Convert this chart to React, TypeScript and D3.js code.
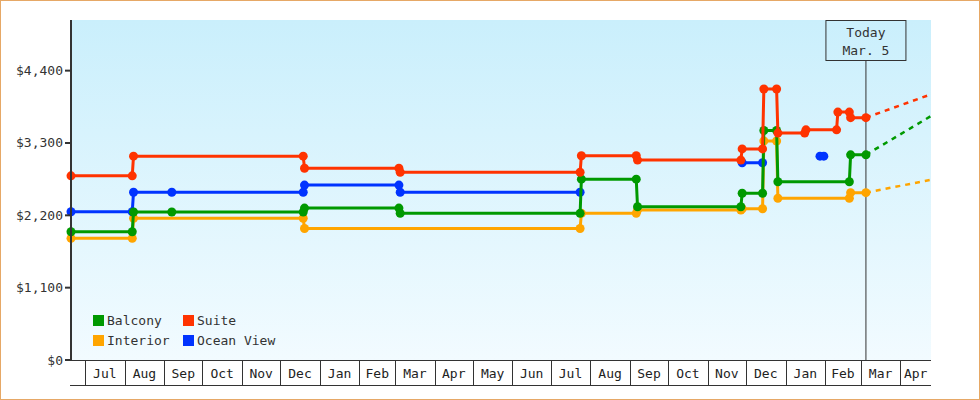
import React, { useEffect } from "react";
import * as d3 from "d3";

// ---------- data ----------
const startDate = "2012-06-20";
const endDate = "2014-04-25";
const todayDate = "2014-03-05";
const todayLabel = ["Today", "Mar. 5"];

const yTicks = [0, 1100, 2200, 3300, 4400];
const yMax = 5170;

type Pt = [string, number | null];

const balcony: Pt[] = [
  ["2012-06-20", 1950], ["2012-08-07", 1950], ["2012-08-08", 2250], ["2012-09-07", 2250],
  ["2012-12-19", 2250], ["2012-12-20", 2310], ["2013-03-04", 2310], ["2013-03-05", 2230],
  ["2013-07-24", 2230], ["2013-07-25", 2750], ["2013-09-06", 2750], ["2013-09-07", 2330],
  ["2013-11-27", 2330], ["2013-11-28", 2535], ["2013-12-14", 2535], ["2013-12-15", 3490],
  ["2013-12-25", 3490], ["2013-12-26", 2710], ["2014-02-20", 2710], ["2014-02-21", 3120],
  ["2014-03-05", 3120],
];

const suite: Pt[] = [
  ["2012-06-20", 2800], ["2012-08-07", 2800], ["2012-08-08", 3100], ["2012-12-19", 3100],
  ["2012-12-20", 2915], ["2013-03-04", 2915], ["2013-03-05", 2855], ["2013-07-24", 2855],
  ["2013-07-25", 3105], ["2013-09-06", 3105], ["2013-09-07", 3040], ["2013-11-27", 3040],
  ["2013-11-28", 3210], ["2013-12-14", 3210], ["2013-12-15", 4120], ["2013-12-25", 4120],
  ["2013-12-26", 3450], ["2014-01-16", 3450], ["2014-01-17", 3500], ["2014-02-10", 3500],
  ["2014-02-11", 3770], ["2014-02-20", 3770], ["2014-02-21", 3685], ["2014-03-05", 3685],
];

const interior: Pt[] = [
  ["2012-06-20", 1850], ["2012-08-07", 1850], ["2012-08-08", 2155], ["2012-12-19", 2155],
  ["2012-12-20", 2000], ["2013-07-24", 2000], ["2013-07-25", 2230], ["2013-09-06", 2230],
  ["2013-09-07", 2280], ["2013-11-27", 2280], ["2013-11-28", 2300], ["2013-12-14", 2300],
  ["2013-12-15", 3330], ["2013-12-25", 3330], ["2013-12-26", 2460], ["2014-02-20", 2460],
  ["2014-02-21", 2545], ["2014-03-05", 2545],
];

const oceanView: Pt[] = [
  ["2012-06-20", 2255], ["2012-08-07", 2255], ["2012-08-08", 2550], ["2012-09-07", 2550],
  ["2012-12-19", 2550], ["2012-12-20", 2660], ["2013-03-04", 2660], ["2013-03-05", 2550],
  ["2013-07-24", 2550], ["2013-07-25", null], ["2013-11-28", 3000], ["2013-12-14", 3000],
  ["2013-12-15", null], ["2014-01-28", 3100], ["2014-01-31", 3100],
];

// projected prices at the end of the axis (dashed)
const projBalcony = 3710;
const projSuite = 4040;
const projInterior = 2740;

const legendNames = ["Balcony", "Suite", "Interior", "Ocean View"];
const colors: Record<string, string> = {
  Balcony: "#009900",
  Suite: "#ff3300",
  Interior: "#ffa500",
  "Ocean View": "#0033ff",
};

// ---------- layout ----------
const W = 980;
const H = 400;
const PL = 71, PR = 931, PT = 20, PB = 360;
const FONT = "'DejaVu Sans Mono', 'Liberation Mono', monospace";

export default function App() {
  useEffect(() => {
    document.body.style.margin = "0";
  }, []);

  const parse = d3.timeParse("%Y-%m-%d");
  const d0 = parse(startDate)!;
  const d1 = parse(endDate)!;
  const today = parse(todayDate)!;

  const x = d3.scaleTime().domain([d0, d1]).range([PL, PR]);
  const y = d3.scaleLinear().domain([0, yMax]).range([PB, PT]);

  const line = d3
    .line<Pt>()
    .defined((d) => d[1] != null)
    .x((d) => x(parse(d[0])!))
    .y((d) => y(d[1] as number));

  const series: { name: string; data: Pt[]; proj: number | null }[] = [
    { name: "Interior", data: interior, proj: projInterior },
    { name: "Ocean View", data: oceanView, proj: null },
    { name: "Balcony", data: balcony, proj: projBalcony },
    { name: "Suite", data: suite, proj: projSuite },
  ];

  // month cells
  const bounds = d3.timeMonth.range(d3.timeMonth.ceil(d0), d1);
  const edges = [d0, ...bounds, d1];
  const cells = edges.slice(0, -1).map((s, i) => ({
    s,
    e: edges[i + 1],
    label: d3.timeFormat("%b")(d3.timeMonth.floor(d3.timeDay.offset(s, 1))),
  }));

  const tx = x(today);

  return (
    <svg width={W} height={H} style={{ display: "block", position: "absolute", left: 0, top: 0 }}>
      <defs>
        <linearGradient id="bg" x1="0" y1="0" x2="0" y2="1">
          <stop offset="0" stopColor="#caeffc" />
          <stop offset="1" stopColor="#f2fbff" />
        </linearGradient>
      </defs>
      <rect x={0.5} y={0.5} width={W - 1} height={H - 1} fill="#ffffff" stroke="#e6a866" />
      <rect x={PL} y={PT} width={PR - PL} height={PB - PT} fill="url(#bg)" />

      {/* today marker */}
      <line x1={tx} x2={tx} y1={PT + 40.5} y2={PB} stroke="#333" strokeWidth={1} />
      <rect x={tx - 40} y={PT + 0.5} width={80} height={40} fill="none" stroke="#333" strokeWidth={1} />
      <text x={tx} y={37} textAnchor="middle" fontFamily={FONT} fontSize={13} fill="#333">
        {todayLabel[0]}
      </text>
      <text x={tx} y={55} textAnchor="middle" fontFamily={FONT} fontSize={13} fill="#333">
        {todayLabel[1]}
      </text>

      {/* series */}
      {series.map((s) => (
        <g key={s.name}>
          <path d={line(s.data) || ""} fill="none" stroke={colors[s.name]} strokeWidth={3} />
          {s.proj != null && (
            <line
              x1={tx}
              y1={y(s.data[s.data.length - 1][1] as number)}
              x2={x(d1)}
              y2={y(s.proj)}
              stroke={colors[s.name]}
              strokeWidth={2.5}
              strokeDasharray="5,5"
            />
          )}
          {s.data
            .filter((d) => d[1] != null)
            .map((d, i) => (
              <circle
                key={i}
                cx={x(parse(d[0])!)}
                cy={y(d[1] as number)}
                r={4.5}
                fill={colors[s.name]}
              />
            ))}
        </g>
      ))}

      {/* y axis */}
      <line x1={PL} x2={PL} y1={PT} y2={PB} stroke="#333" strokeWidth={2} />
      {yTicks.map((t) => (
        <g key={t}>
          <line x1={PL - 6} x2={PL} y1={y(t)} y2={y(t)} stroke="#333" strokeWidth={2} />
          <text
            x={63}
            y={y(t) + 4.5}
            textAnchor="end"
            fontFamily={FONT}
            fontSize={13}
            fill="#333"
          >
            {d3.format("$,")(t)}
          </text>
        </g>
      ))}

      {/* x axis month cells */}
      <line x1={PL - 1} x2={PR} y1={PB + 0.5} y2={PB + 0.5} stroke="#333" strokeWidth={1} />
      <line x1={PL - 1} x2={PR} y1={385.5} y2={385.5} stroke="#333" strokeWidth={1} />
      {bounds.map((b, i) => (
        <line
          key={i}
          x1={Math.round(x(b)) + 0.5}
          x2={Math.round(x(b)) + 0.5}
          y1={PB}
          y2={385.5}
          stroke="#333"
          strokeWidth={1}
        />
      ))}
      {cells.map((c, i) =>
        x(c.e) - x(c.s) > 22 ? (
          <text
            key={i}
            x={(x(c.s) + x(c.e)) / 2}
            y={378}
            textAnchor="middle"
            fontFamily={FONT}
            fontSize={13}
            fill="#222"
          >
            {c.label}
          </text>
        ) : null
      )}

      {/* legend */}
      {legendNames.map((n, i) => {
        const col = i % 2;
        const row = Math.floor(i / 2);
        const lx = 93 + col * 90;
        const ly = 315 + row * 20;
        return (
          <g key={n}>
            <rect x={lx} y={ly} width={11} height={11} fill={colors[n]} />
            <text x={lx + 14} y={ly + 10} fontFamily={FONT} fontSize={13} fill="#333">
              {n}
            </text>
          </g>
        );
      })}
    </svg>
  );
}
